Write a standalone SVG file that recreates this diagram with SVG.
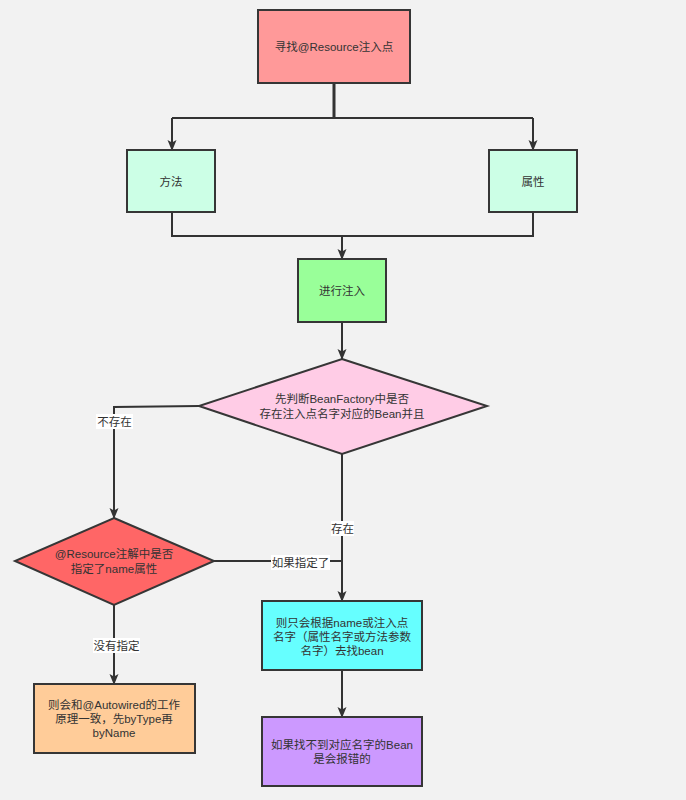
<svg xmlns="http://www.w3.org/2000/svg" width="686" height="800" viewBox="0 0 686 800">
<defs>
<marker id="arr" markerWidth="12" markerHeight="12" refX="10" refY="6" orient="auto" markerUnits="userSpaceOnUse">
<path d="M0,1.5 L11,6 L0,10.5 L2.5,6 Z" fill="#333"/>
</marker>
<style>
.node{stroke:#363636;stroke-width:2}
.t{font-family:"Liberation Sans","Noto Sans CJK SC",sans-serif;font-size:11.5px;fill:#333;text-anchor:middle;dominant-baseline:central}
.c{fill:none;stroke:#333;stroke-width:2}
.lb{fill:#fff}
</style>
</defs>
<rect width="686" height="800" fill="#f2f2f2"/>
<g id="connectors">
<path class="c" d="M334,83 V118" style="stroke-width:3"/>
<path class="c" d="M172,118 H533"/>
<path class="c" d="M172,118 V150" marker-end="url(#arr)"/>
<path class="c" d="M533,118 V150" marker-end="url(#arr)"/>
<path class="c" d="M172,212 V236 H533 V212"/>
<path class="c" d="M342,236 V259" marker-end="url(#arr)"/>
<path class="c" d="M342,322 V359" marker-end="url(#arr)"/>
<path class="c" d="M199,406 L114,407 V518" marker-end="url(#arr)"/>
<path class="c" d="M342,454 V601" marker-end="url(#arr)"/>
<path class="c" d="M214,561 H342"/>
<path class="c" d="M342,670 V717" marker-end="url(#arr)"/>
<path class="c" d="M114,605 V684" marker-end="url(#arr)"/>
<rect class="lb" x="96" y="414" width="37" height="15"/>
<text class="t" x="114.5" y="421.5">不存在</text>
<rect class="lb" x="331" y="521" width="23" height="15"/>
<text class="t" x="342.5" y="528.5">存在</text>
<rect class="lb" x="271" y="555" width="59" height="15"/>
<text class="t" x="300.5" y="562.5">如果指定了</text>
<rect class="lb" x="93" y="638" width="47" height="15"/>
<text class="t" x="116.5" y="645.5">没有指定</text>
</g>
<g id="n1"><rect class="node" x="258" y="10" width="152" height="73" fill="#ff9999"/><text class="t" x="334" y="47">寻找@Resource注入点</text></g>
<g id="n2"><rect class="node" x="127" y="150" width="88" height="62" fill="#ccffe6"/><text class="t" x="171" y="182">方法</text></g>
<g id="n3"><rect class="node" x="489" y="150" width="88" height="62" fill="#ccffe6"/><text class="t" x="533" y="182">属性</text></g>
<g id="n4"><rect class="node" x="298" y="259" width="88" height="63" fill="#99ff99"/><text class="t" x="342" y="291">进行注入</text></g>
<g id="n5"><polygon class="node" points="342,359 487,406 342,454 199,406" fill="#ffcce6"/><text class="t" x="342" y="399">先判断BeanFactory中是否</text><text class="t" x="342" y="414">存在注入点名字对应的Bean并且</text></g>
<g id="n6"><polygon class="node" points="114,518 214,561 114,605 15,561" fill="#ff6666"/><text class="t" x="114" y="554">@Resource注解中是否</text><text class="t" x="114" y="569">指定了name属性</text></g>
<g id="n7"><rect class="node" x="262" y="601" width="160" height="69" fill="#66ffff"/><text class="t" x="342" y="622.5">则只会根据name或注入点</text><text class="t" x="342" y="636.5">名字（属性名字或方法参数</text><text class="t" x="342" y="650.5">名字）去找bean</text></g>
<g id="n8"><rect class="node" x="262" y="717" width="160" height="69" fill="#cc99ff"/><text class="t" x="342" y="745">如果找不到对应名字的Bean</text><text class="t" x="342" y="759">是会报错的</text></g>
<g id="n9"><rect class="node" x="34" y="684" width="161" height="69" fill="#ffcc99"/><text class="t" x="114" y="705">则会和@Autowired的工作</text><text class="t" x="114" y="719">原理一致，先byType再</text><text class="t" x="114" y="733">byName</text></g>
</svg>
